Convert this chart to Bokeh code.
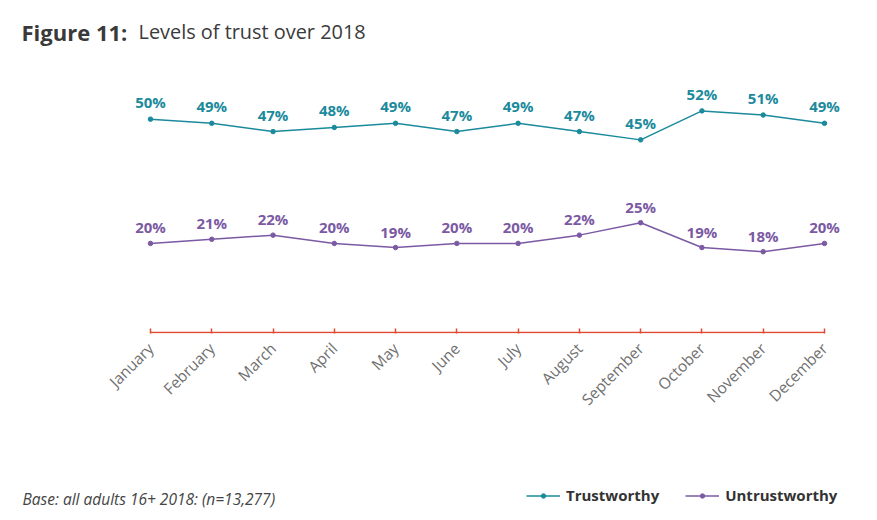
from bokeh.plotting import figure
from bokeh.layouts import column
from bokeh.models import Range1d, Label, Legend, LegendItem, ColumnDataSource, FixedTicker
from bokeh.core.properties import value
from bokeh.embed import file_html
from bokeh.resources import INLINE
import math

months = ["January", "February", "March", "April", "May", "June", "July",
          "August", "September", "October", "November", "December"]
trustworthy = [50, 49, 47, 48, 49, 47, 49, 47, 45, 52, 51, 49]
untrustworthy = [20, 21, 22, 20, 19, 20, 20, 22, 25, 19, 18, 20]
series_names = ["Trustworthy", "Untrustworthy"]

TEAL = "#1b8a9c"
PURPLE = "#7b5aa3"
AXIS = "#e04a32"
FONT = "Open Sans"

xs = list(range(len(months)))
src_t = ColumnDataSource(dict(x=xs, y=trustworthy, lab=[f"{v}%" for v in trustworthy]))
src_u = ColumnDataSource(dict(x=xs, y=untrustworthy, lab=[f"{v}%" for v in untrustworthy]))

# ---------------- main chart (frame covers the title area too) ----------------
p = figure(width=861, height=464, output_backend="svg", toolbar_location=None,
           x_range=Range1d(-2.448, 11.588), y_range=Range1d(-1.75, 78.65),
           min_border_left=0, min_border_right=1, min_border_top=0, min_border_bottom=131)
p.outline_line_color = None
p.xgrid.visible = False
p.ygrid.visible = False
p.yaxis.visible = False

ax = p.xaxis[0]
ax.ticker = FixedTicker(ticks=xs)
ax.major_label_overrides = {i: m for i, m in enumerate(months)}
ax.major_label_orientation = math.pi / 4
ax.axis_line_color = None
ax.major_tick_line_color = AXIS
ax.major_tick_line_width = 1.5
ax.major_tick_in = 5
ax.major_tick_out = 0
ax.minor_tick_line_color = None
ax.major_label_text_font = FONT
ax.major_label_text_font_size = "15.5px"
ax.major_label_text_color = "#707070"
ax.major_label_standoff = 12

# axis baseline spanning first to last month
p.segment(x0=[xs[0]], y0=[-1.5], x1=[xs[-1]], y1=[-1.5], line_color=AXIS, line_width=1.6)

p.line("x", "y", source=src_t, line_color=TEAL, line_width=1.5)
p.scatter("x", "y", source=src_t, size=4.5, color=TEAL)
p.line("x", "y", source=src_u, line_color=PURPLE, line_width=1.5)
p.scatter("x", "y", source=src_u, size=4.5, color=PURPLE)

p.text("x", "y", text="lab", source=src_t, text_font=value(FONT), text_font_size="15px",
       text_font_style="bold", text_color=TEAL, text_align="center",
       text_baseline="middle", y_offset=-17)
p.text("x", "y", text="lab", source=src_u, text_font=value(FONT), text_font_size="15px",
       text_font_style="bold", text_color=PURPLE, text_align="center",
       text_baseline="middle", y_offset=-16)

# title (screen units measured from the frame's bottom-left corner)
p.add_layout(Label(x=21, y=333 - 31, x_units="screen", y_units="screen", text="Figure 11:",
                   text_font=FONT, text_font_size="22px", text_font_style="bold",
                   text_color="#3a3a3a", text_baseline="alphabetic"))
p.add_layout(Label(x=138, y=333 - 31, x_units="screen", y_units="screen",
                   text="Levels of trust over 2018",
                   text_font=FONT, text_font_size="19.9px", text_color="#3a3a3a",
                   text_baseline="alphabetic"))

# ---------------- footer strip: footnote + legend ----------------
f = figure(width=861, height=48, output_backend="svg", toolbar_location=None,
           x_range=Range1d(-2.448, 11.588), y_range=Range1d(1000, 1001),
           min_border_left=0, min_border_right=1, min_border_top=0, min_border_bottom=0)
f.outline_line_color = None
f.xgrid.visible = False
f.ygrid.visible = False
f.xaxis.visible = False
f.yaxis.visible = False

# same series drawn outside this strip's visible range: only used for legend glyphs
lt = f.line(xs, trustworthy, line_color=TEAL, line_width=1.5)
st = f.scatter(xs, trustworthy, size=4.5, color=TEAL)
lu = f.line(xs, untrustworthy, line_color=PURPLE, line_width=1.5)
su = f.scatter(xs, untrustworthy, size=4.5, color=PURPLE)

f.add_layout(Label(x=22, y=48 - 34, x_units="screen", y_units="screen",
                   text="Base: all adults 16+ 2018: (n=13,277)",
                   text_font=FONT, text_font_size="15.5px", text_font_style="italic",
                   text_color="#444444", text_baseline="alphabetic"))

legend = Legend(items=[LegendItem(label=series_names[0], renderers=[lt, st]),
                       LegendItem(label=series_names[1], renderers=[lu, su])],
                orientation="horizontal", location=(526, 7),
                label_text_font=FONT, label_text_font_size="15px",
                label_text_font_style="bold", label_text_color="#333333",
                glyph_width=34, glyph_height=11, label_height=20, spacing=26,
                background_fill_alpha=0, border_line_color=None, padding=0, margin=0,
                label_standoff=6)
f.add_layout(legend, "center")

layout = column(p, f, spacing=0)
open("out.html", "w").write(file_html(layout, INLINE))
